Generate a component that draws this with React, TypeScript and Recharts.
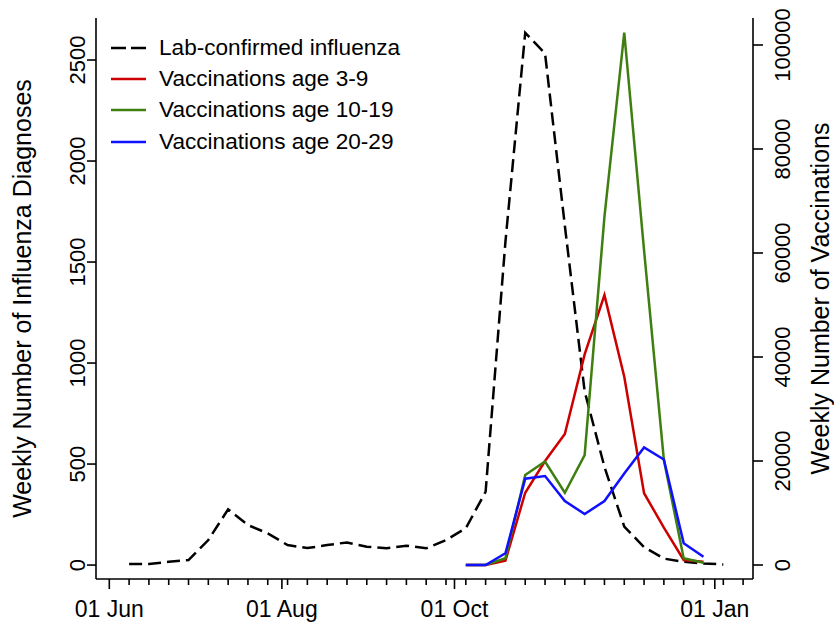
import React from 'react';
import { LineChart, Line, XAxis, YAxis, Legend } from 'recharts';

const FONT = '"Liberation Sans", Arial, Helvetica, sans-serif';

// ---- categories (week dates) ----
const seasonStart = '2009-06-01';
const fluWeeks = [
  '2009-06-08', '2009-06-15', '2009-06-22', '2009-06-29',
  '2009-07-06', '2009-07-13', '2009-07-20', '2009-07-27',
  '2009-08-03', '2009-08-10', '2009-08-17', '2009-08-24', '2009-08-31',
  '2009-09-07', '2009-09-14', '2009-09-21', '2009-09-28',
  '2009-10-05', '2009-10-12', '2009-10-19', '2009-10-26',
  '2009-11-02', '2009-11-09', '2009-11-16', '2009-11-23', '2009-11-30',
  '2009-12-07', '2009-12-14', '2009-12-21', '2009-12-28',
  '2010-01-04',
];
const vaccWeeks = [
  '2009-10-05', '2009-10-12', '2009-10-19', '2009-10-26',
  '2009-11-02', '2009-11-09', '2009-11-16', '2009-11-23', '2009-11-30',
  '2009-12-07', '2009-12-14', '2009-12-21', '2009-12-28',
];

// ---- series values ----
const fluCases = [
  5, 5, 16, 25, 124, 276, 198, 157, 99, 84, 99, 112, 91, 83, 96, 83,
  124, 182, 363, 1600, 2635, 2533, 1680, 860, 486, 190, 89, 32, 16, 8, 3,
];
const vacc3to9 = [0, 0, 830, 13900, 20000, 25200, 40500, 51900, 36200, 13800, 7200, 960, 640];
const vacc10to19 = [0, 0, 1290, 17300, 19900, 13900, 21150, 67000, 102400, 60500, 20200, 1300, 440];
const vacc20to29 = [0, 0, 2250, 16600, 17100, 12300, 9800, 12300, 17600, 22600, 20300, 4200, 1600];

// ---- tick labels ----
const monthTickDates = ['2009-06-01', '2009-08-01', '2009-10-01', '2010-01-01'];
const monthTickLabels = ['01 Jun', '01 Aug', '01 Oct', '01 Jan'];
const weekTickDates = [...fluWeeks, '2010-01-11'];
const fluTicks = [0, 500, 1000, 1500, 2000, 2500];
const vaccTicks = [0, 20000, 40000, 60000, 80000, 100000];

const dayOf = (s: string) =>
  Math.round((Date.parse(s + 'T00:00:00Z') - Date.parse(seasonStart + 'T00:00:00Z')) / 86400000);

const majorDays = monthTickDates.map(dayOf);
const minorDays = weekTickDates.map(dayOf);

const data = fluWeeks.map((w, i) => {
  const j = vaccWeeks.indexOf(w);
  return {
    day: dayOf(w),
    flu: fluCases[i],
    v39: j >= 0 ? vacc3to9[j] : null,
    v1019: j >= 0 ? vacc10to19[j] : null,
    v2029: j >= 0 ? vacc20to29[j] : null,
  };
});

const SERIES = [
  { key: 'flu', name: 'Lab-confirmed influenza', color: '#000000', dash: '13 6', axis: 'flu' },
  { key: 'v39', name: 'Vaccinations age 3-9', color: '#CD0000', dash: undefined, axis: 'vac' },
  { key: 'v1019', name: 'Vaccinations age 10-19', color: '#3F7F10', dash: undefined, axis: 'vac' },
  { key: 'v2029', name: 'Vaccinations age 20-29', color: '#1010FF', dash: undefined, axis: 'vac' },
];

const XTick = (props: any) => {
  const { x, y, payload } = props;
  const idx = majorDays.indexOf(payload.value);
  const major = idx >= 0;
  return (
    <g>
      <line x1={x} x2={x} y1={y} y2={y + (major ? 10 : 6)} stroke="#000" strokeWidth={1.6} />
      {major && (
        <text x={x} y={y + 38} textAnchor="middle" fontSize={23} fontFamily={FONT} fill="#000">
          {monthTickLabels[idx]}
        </text>
      )}
    </g>
  );
};

const RotTick = (props: any) => {
  const { x, y, payload } = props;
  return (
    <text
      x={x}
      y={y}
      transform={`rotate(-90 ${x} ${y})`}
      textAnchor="middle"
      fontSize={22}
      fontFamily={FONT}
      fill="#000"
    >
      {payload.value}
    </text>
  );
};

const makeTitle = (text: string, dx: number) => (props: any) => {
  const vb = props.viewBox || {};
  const cx = (vb.x || 0) + dx;
  const cy = (vb.y || 0) + (vb.height || 0) / 2;
  return (
    <text
      x={cx}
      y={cy}
      transform={`rotate(-90 ${cx} ${cy})`}
      textAnchor="middle"
      fontSize={25}
      fontFamily={FONT}
      fill="#000"
    >
      {text}
    </text>
  );
};

const LegendContent = () => (
  <div style={{ fontFamily: FONT, fontSize: 22.6, color: '#000' }}>
    {SERIES.map((s) => (
      <div key={s.key} style={{ display: 'flex', alignItems: 'center', height: 31.4 }}>
        <svg width={36} height={10} style={{ marginLeft: 7, marginRight: 12 }}>
          <line x1={0} x2={35} y1={5} y2={5} stroke={s.color} strokeWidth={2.5} strokeDasharray={s.dash ? '15 5' : undefined} />
        </svg>
        <span style={{ whiteSpace: 'nowrap' }}>{s.name}</span>
      </div>
    ))}
  </div>
);

export default function App() {
  return (
    <div style={{ position: 'absolute', left: 0, top: 0, width: 834, height: 624, background: '#fff' }}>
      <LineChart width={834} height={624} data={data} margin={{ top: 18, right: 0, bottom: 0, left: 0 }}>
        <XAxis
          dataKey="day"
          type="number"
          domain={[-4.7, 227.5]}
          allowDataOverflow
          ticks={[...majorDays, ...minorDays]}
          interval={0}
          tick={<XTick />}
          tickLine={false}
          tickSize={0}
          tickMargin={0}
          height={45}
          axisLine={{ stroke: '#000', strokeWidth: 1.6 }}
        />
        <YAxis
          yAxisId="flu"
          type="number"
          domain={[-69, 2708]}
          allowDataOverflow
          ticks={fluTicks}
          interval={0}
          width={96}
          tickSize={9}
          tickMargin={2}
          tick={<RotTick />}
          tickLine={{ stroke: '#000', strokeWidth: 1.6 }}
          axisLine={{ stroke: '#000', strokeWidth: 1.6 }}
          label={{ content: makeTitle('Weekly Number of Influenza Diagnoses', 31) }}
        />
        <YAxis
          yAxisId="vac"
          orientation="right"
          type="number"
          domain={[-2692, 105192]}
          allowDataOverflow
          ticks={vaccTicks}
          interval={0}
          width={81}
          tickSize={10}
          tickMargin={27}
          tick={<RotTick />}
          tickLine={{ stroke: '#000', strokeWidth: 1.6 }}
          axisLine={{ stroke: '#000', strokeWidth: 1.6 }}
          label={{ content: makeTitle('Weekly Number of Vaccinations', 76) }}
        />
        <Legend
          layout="vertical"
          align="center"
          verticalAlign="middle"
          content={<LegendContent />}
          wrapperStyle={{ left: 104, top: 32, width: 340 }}
        />
        {SERIES.map((s) => (
          <Line
            key={s.key}
            yAxisId={s.axis}
            dataKey={s.key}
            name={s.name}
            type="linear"
            stroke={s.color}
            strokeWidth={2.5}
            strokeDasharray={s.dash}
            dot={false}
            activeDot={false}
            connectNulls={false}
            isAnimationActive={false}
          />
        ))}
      </LineChart>
    </div>
  );
}
